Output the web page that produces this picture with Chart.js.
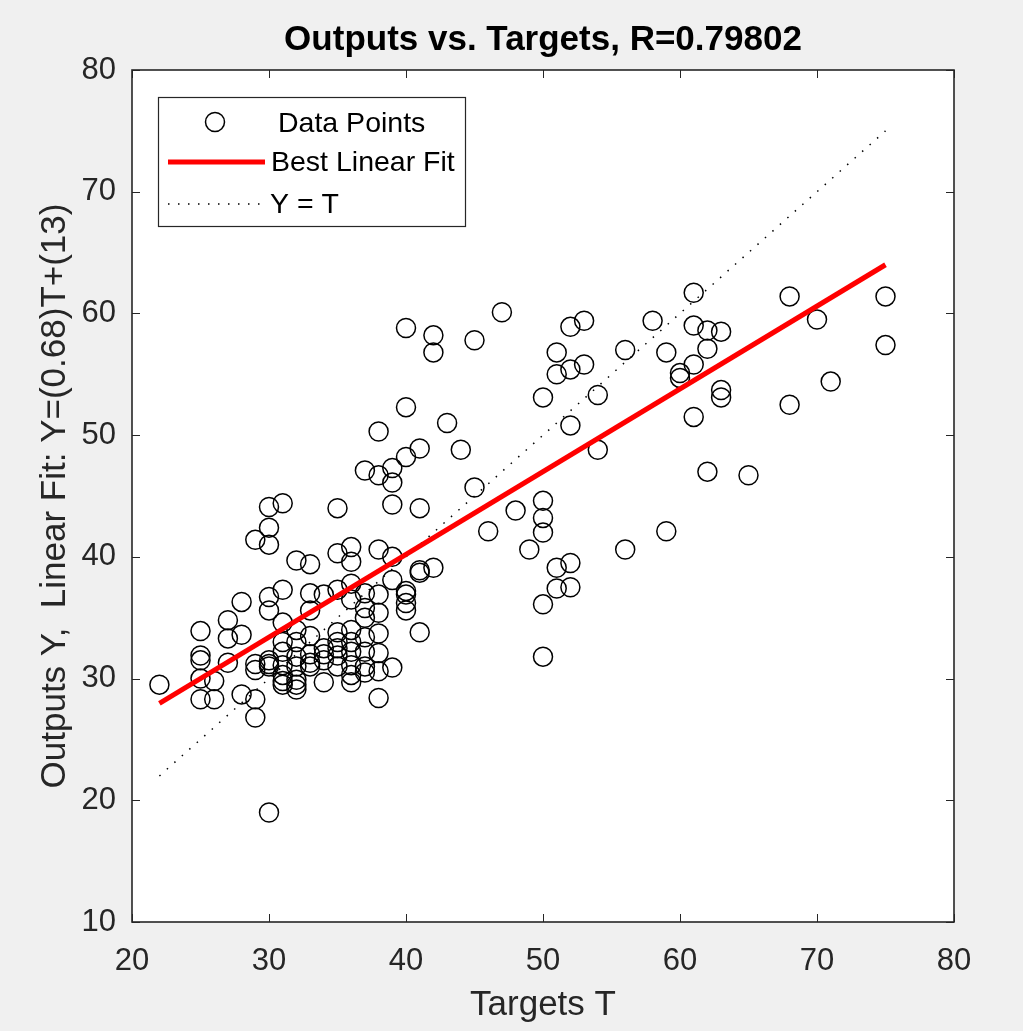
<!DOCTYPE html>
<html lang="en">
<head>
    <meta charset="UTF-8">
    <title>Outputs vs. Targets</title>
    <script src="https://cdn.jsdelivr.net/npm/chart.js"></script>
    <style>
        body { margin: 0; background: #f0f0f0; }
        canvas { display: block; }
    </style>
</head>
<body>
    <canvas id="regressionChart" width="1023" height="1031"></canvas>

    <script>
        // Network targets and the matching outputs, one pair per sample
        const targets = [
            22,
            25, 25, 25, 25, 25,
            26, 26,
            27, 27, 27,
            28, 28, 28,
            29, 29, 29, 29, 29,
            30, 30, 30, 30, 30, 30, 30, 30, 30,
            31, 31, 31, 31, 31, 31, 31, 31, 31,
            32, 32, 32, 32, 32, 32, 32, 32,
            33, 33, 33, 33, 33, 33, 33,
            34, 34, 34, 34, 34,
            35, 35, 35, 35, 35, 35, 35, 35,
            36, 36, 36, 36, 36, 36, 36, 36, 36, 36,
            37, 37, 37, 37, 37, 37, 37, 37,
            38, 38, 38, 38, 38, 38, 38, 38, 38,
            39, 39, 39, 39, 39, 39,
            40, 40, 40, 40, 40, 40, 40,
            41, 41, 41, 41, 41,
            42, 42, 42,
            43, 44, 45, 45, 46, 47, 48, 49,
            50, 50, 50, 50, 50, 50,
            51, 51, 51, 51,
            52, 52, 52, 52, 52,
            53, 53, 54, 54, 56, 56, 58, 59, 59, 60, 60,
            61, 61, 61, 61,
            62, 62, 62,
            63, 63, 63,
            65, 68, 68, 70, 71, 75, 75
        ];
        const outputs = [
            29.5,
            33.9, 31.9, 31.5, 30.0, 28.3,
            29.8, 28.3,
            34.8, 33.3, 31.3,
            36.3, 33.6, 28.7,
            41.4, 31.2, 30.7, 28.3, 26.8,
            44.1, 42.4, 41.0, 36.7, 35.6, 31.5, 31.2, 31.0, 19.0,
            44.4, 37.3, 34.6, 33.0, 32.2, 31.1, 30.3, 29.8, 29.5,
            39.7, 34.0, 33.0, 31.8, 31.0, 29.9, 29.5, 29.1,
            39.4, 37.0, 35.6, 33.5, 32.0, 31.3, 31.0,
            36.9, 32.5, 32.0, 31.5, 29.7,
            44.0, 40.3, 37.3, 33.8, 33.0, 32.5, 31.9, 31.0,
            40.8, 39.6, 37.8, 36.5, 34.0, 33.0, 32.2, 31.1, 30.3, 29.7,
            47.1, 37.0, 35.8, 35.0, 33.4, 32.2, 31.0, 30.5,
            50.3, 46.7, 40.6, 36.9, 35.4, 33.7, 32.1, 30.6, 28.4,
            47.3, 46.1, 44.3, 40.0, 38.1, 30.9,
            58.8, 52.3, 48.2, 37.2, 36.9, 36.2, 35.6,
            48.9, 44.0, 38.9, 38.7, 33.8,
            58.2, 56.8, 39.1,
            51.0, 48.8, 57.8, 45.7, 42.1, 60.1, 43.8, 40.6,
            53.1, 44.6, 43.2, 42.0, 36.1, 31.8,
            56.8, 55.0, 39.1, 37.4,
            58.9, 55.4, 50.8, 39.5, 37.5,
            59.4, 55.8, 53.3, 48.8, 57.0, 40.6, 59.4, 56.8, 42.1, 55.1, 54.7,
            61.7, 59.0, 55.8, 51.5,
            58.6, 57.1, 47.0,
            58.5, 53.7, 53.1,
            46.7, 61.4, 52.5, 59.5, 54.4, 61.4, 57.4
        ];

        // Linear fit Y = 0.68*T + 13
        const fitSlope = 0.68;
        const fitIntercept = 13;
        const R = 0.79802;

        const xTicks = [20, 30, 40, 50, 60, 70, 80];
        const yTicks = [10, 20, 30, 40, 50, 60, 70, 80];

        const tMin = Math.min(...targets);
        const tMax = Math.max(...targets);

        const points = targets.map((t, i) => ({ x: t, y: outputs[i] }));
        const fitLine = [tMin, tMax].map(t => ({ x: t, y: fitSlope * t + fitIntercept }));
        const identityLine = [tMin, tMax].map(t => ({ x: t, y: t }));

        const axisColor = '#262626';
        const fontFamily = '"Liberation Sans", Arial, Helvetica, sans-serif';

        // white plot box, inward ticks on every side, legend and title
        const framePlugin = {
            id: 'frame',
            beforeDraw(chart) {
                const { ctx, chartArea: a } = chart;
                ctx.save();
                ctx.fillStyle = '#ffffff';
                ctx.fillRect(a.left, a.top, a.right - a.left, a.bottom - a.top);
                ctx.restore();
            },
            afterDraw(chart) {
                const { ctx, chartArea: a, scales } = chart;
                const tick = 8;
                ctx.save();
                ctx.strokeStyle = axisColor;
                ctx.lineWidth = 1;
                ctx.beginPath();
                xTicks.forEach(v => {
                    const px = Math.round(scales.x.getPixelForValue(v)) + 0.5;
                    ctx.moveTo(px, a.bottom); ctx.lineTo(px, a.bottom - tick);
                    ctx.moveTo(px, a.top); ctx.lineTo(px, a.top + tick);
                });
                yTicks.forEach(v => {
                    const py = Math.round(scales.y.getPixelForValue(v)) + 0.5;
                    ctx.moveTo(a.left, py); ctx.lineTo(a.left + tick, py);
                    ctx.moveTo(a.right, py); ctx.lineTo(a.right - tick, py);
                });
                ctx.stroke();

                ctx.lineWidth = 1.6;
                ctx.strokeRect(a.left, a.top, a.right - a.left, a.bottom - a.top);

                // legend box
                const lx = 158, ly = 97, lw = 307, lh = 129;
                ctx.fillStyle = '#ffffff';
                ctx.fillRect(lx, ly, lw, lh);
                ctx.lineWidth = 1.2;
                ctx.strokeRect(lx + 0.5, ly + 0.5, lw, lh);

                ctx.strokeStyle = '#000000';
                ctx.lineWidth = 1.5;
                ctx.beginPath();
                ctx.arc(215, 122, 9.5, 0, Math.PI * 2);
                ctx.stroke();

                ctx.strokeStyle = '#ff0000';
                ctx.lineWidth = 5;
                ctx.beginPath();
                ctx.moveTo(168, 162); ctx.lineTo(265, 162);
                ctx.stroke();

                ctx.strokeStyle = '#000000';
                ctx.lineWidth = 1.5;
                ctx.setLineDash([1.5, 8.5]);
                ctx.beginPath();
                ctx.moveTo(168, 204); ctx.lineTo(265, 204);
                ctx.stroke();
                ctx.setLineDash([]);

                ctx.fillStyle = '#000000';
                ctx.font = '28.5px ' + fontFamily;
                ctx.textAlign = 'left';
                ctx.textBaseline = 'middle';
                ctx.fillText('Data Points', 278, 124);
                ctx.fillText('Best Linear Fit', 271, 163);
                ctx.fillText('Y = T', 270, 205);

                // title
                ctx.font = 'bold 35px ' + fontFamily;
                ctx.textAlign = 'center';
                ctx.fillStyle = '#000000';
                ctx.fillText('Outputs vs. Targets, R=' + R.toFixed(5), (a.left + a.right) / 2, 40);
                ctx.restore();
            }
        };

        const ctx = document.getElementById('regressionChart').getContext('2d');
        new Chart(ctx, {
            type: 'scatter',
            data: {
                datasets: [
                    {
                        label: 'Best Linear Fit',
                        type: 'line',
                        data: fitLine,
                        borderColor: '#ff0000',
                        borderWidth: 5,
                        pointRadius: 0,
                        fill: false
                    },
                    {
                        label: 'Y = T',
                        type: 'line',
                        data: identityLine,
                        borderColor: '#000000',
                        borderWidth: 1.5,
                        borderDash: [1.5, 8.5],
                        pointRadius: 0,
                        fill: false
                    },
                    {
                        label: 'Data Points',
                        data: points,
                        pointStyle: 'circle',
                        pointRadius: 9.5,
                        pointBorderWidth: 1.5,
                        borderColor: '#000000',
                        backgroundColor: 'rgba(0,0,0,0)'
                    }
                ]
            },
            options: {
                responsive: false,
                animation: false,
                devicePixelRatio: 1,
                layout: { padding: { top: 70, right: 69, left: 0, bottom: 0 } },
                plugins: {
                    legend: { display: false },
                    tooltip: { enabled: false }
                },
                scales: {
                    x: {
                        type: 'linear',
                        min: xTicks[0],
                        max: xTicks[xTicks.length - 1],
                        afterFit: scale => { scale.height = 109; },
                        afterBuildTicks: scale => { scale.ticks = xTicks.map(v => ({ value: v })); },
                        grid: { display: false, drawTicks: false },
                        border: { display: false },
                        ticks: {
                            color: axisColor,
                            padding: 21,
                            font: { family: fontFamily, size: 31 }
                        },
                        title: {
                            display: true,
                            text: 'Targets T',
                            color: axisColor,
                            padding: { bottom: 5 },
                            font: { family: fontFamily, size: 35 }
                        }
                    },
                    y: {
                        type: 'linear',
                        min: yTicks[0],
                        max: yTicks[yTicks.length - 1],
                        afterFit: scale => { scale.width = 132; },
                        afterBuildTicks: scale => { scale.ticks = yTicks.map(v => ({ value: v })); },
                        grid: { display: false, drawTicks: false },
                        border: { display: false },
                        ticks: {
                            color: axisColor,
                            padding: 16,
                            font: { family: fontFamily, size: 31 }
                        },
                        title: {
                            display: true,
                            text: 'Outputs Y,  Linear Fit: Y=(' + fitSlope.toFixed(2) + ')T+(' + fitIntercept + ')',
                            color: axisColor,
                            padding: { top: 34 },
                            font: { family: fontFamily, size: 35 }
                        }
                    }
                }
            },
            plugins: [framePlugin]
        });
    </script>
</body>
</html>
